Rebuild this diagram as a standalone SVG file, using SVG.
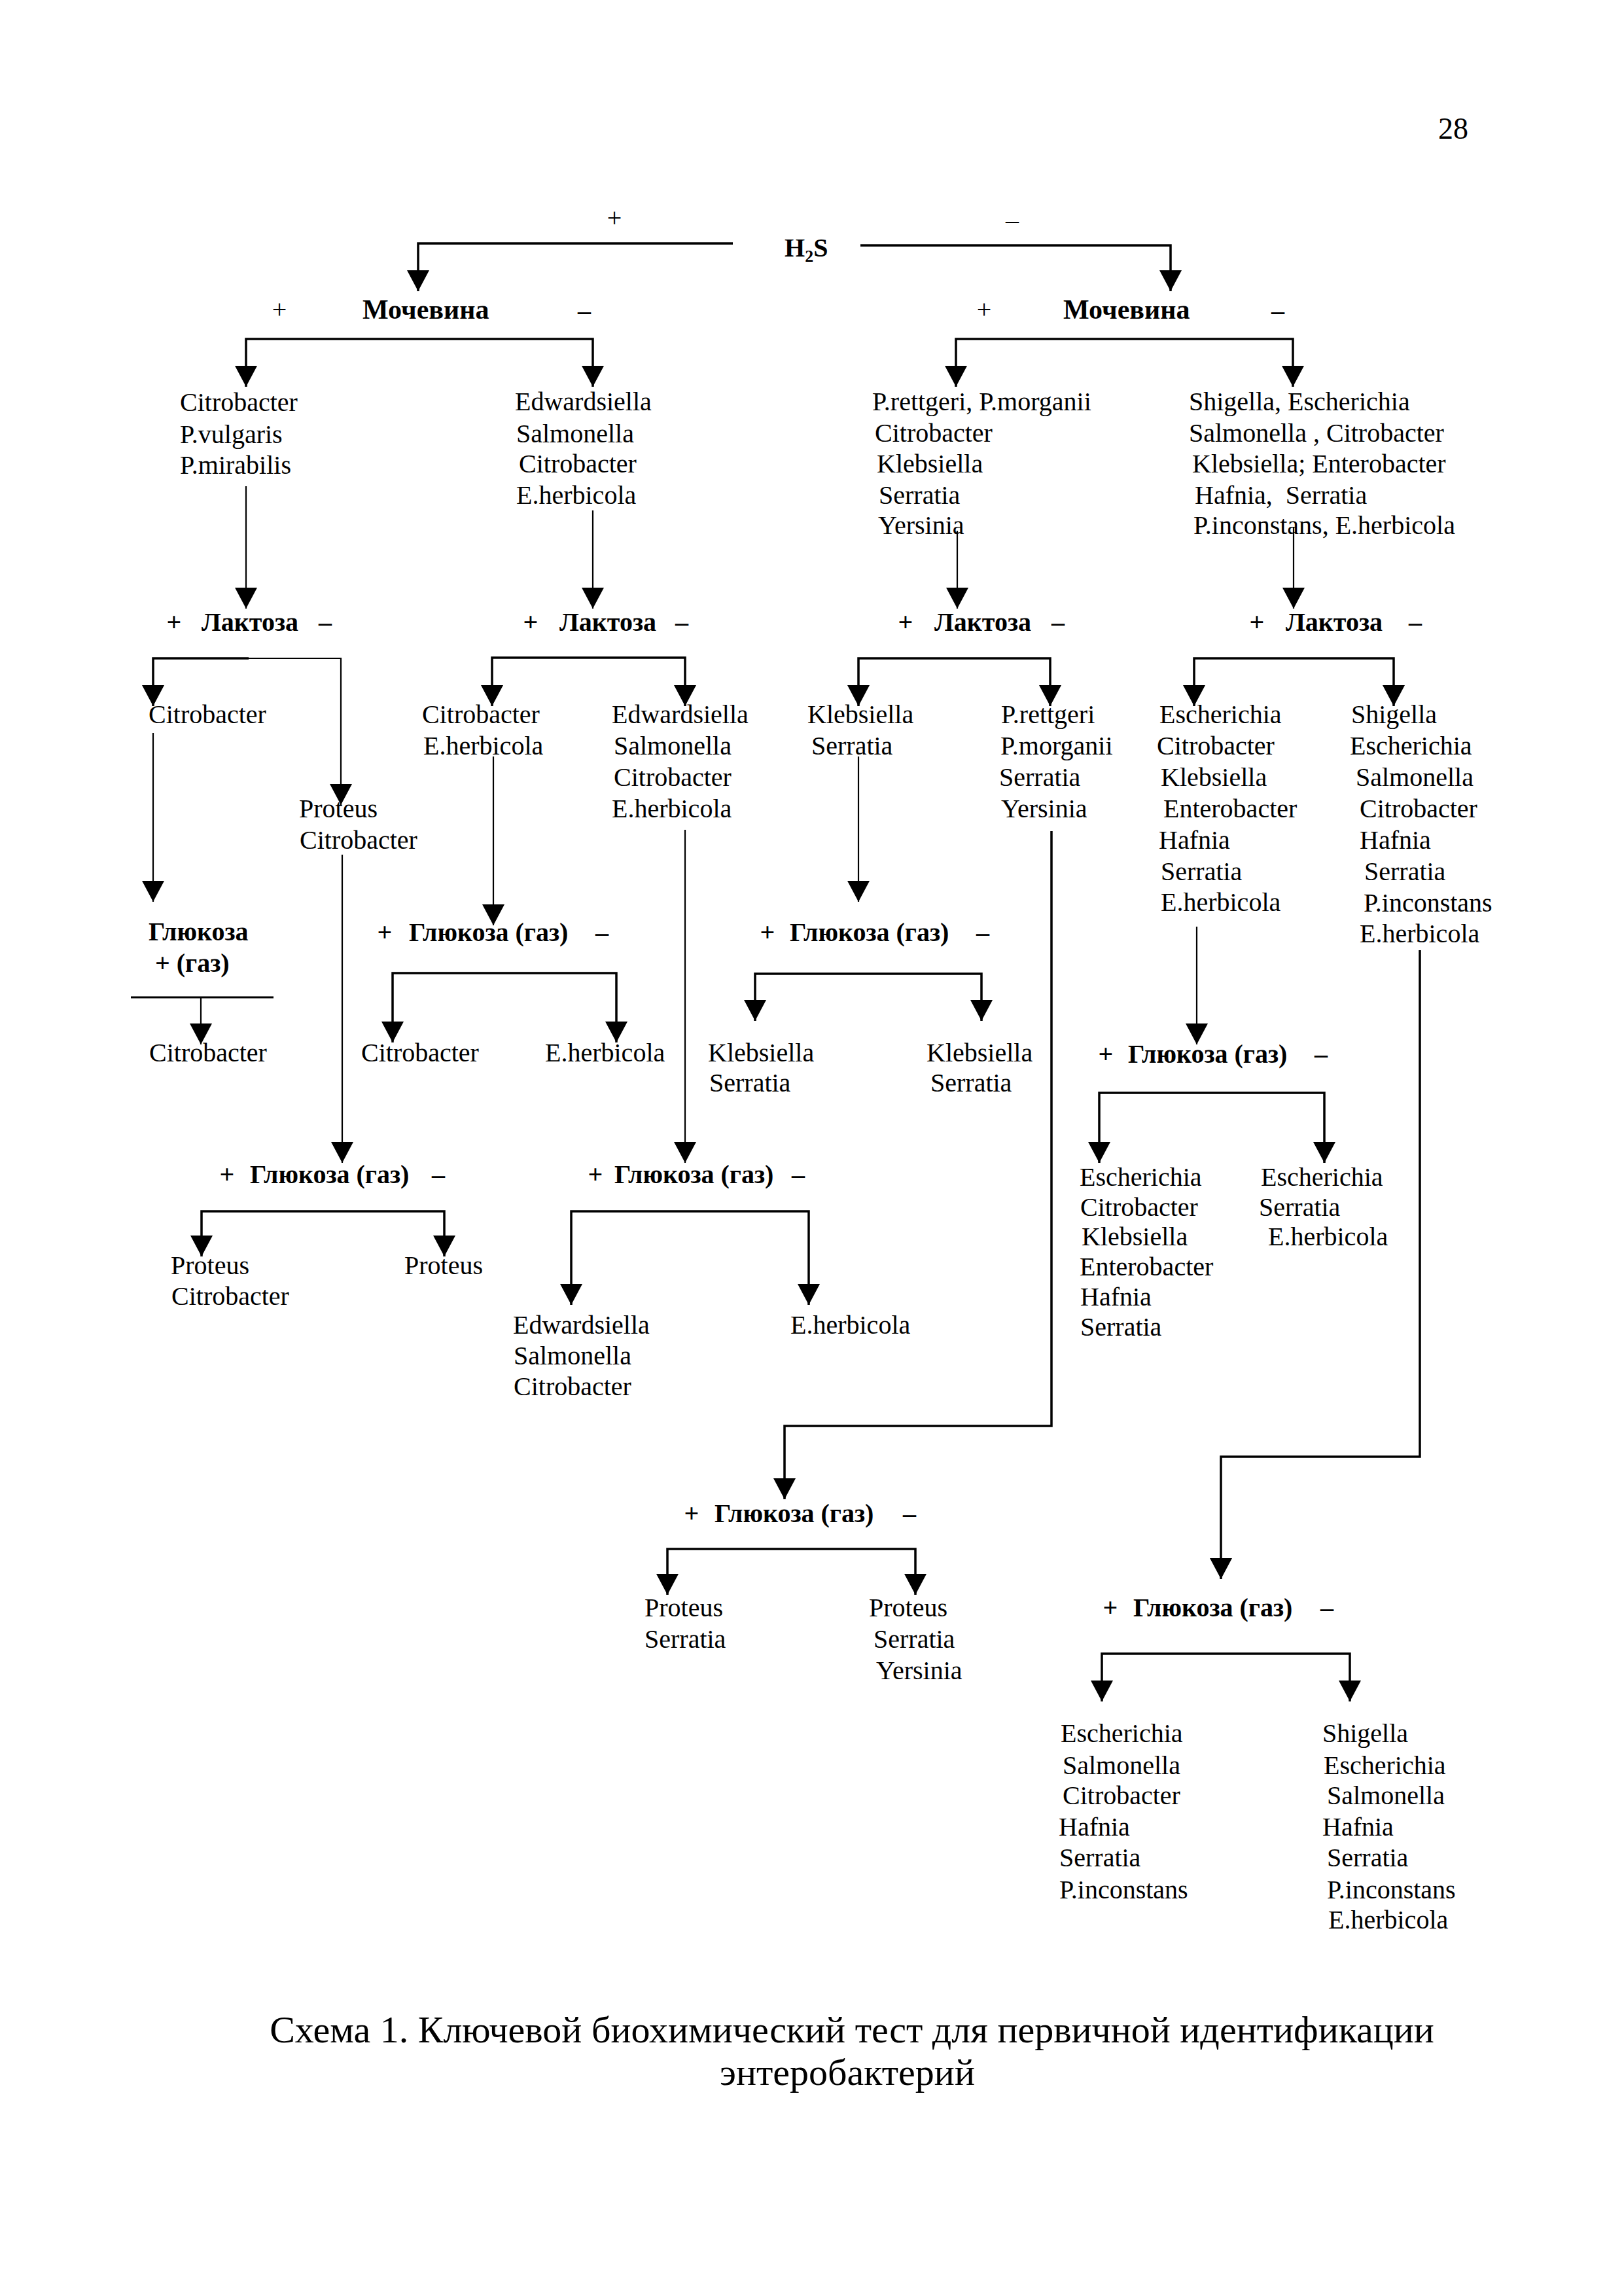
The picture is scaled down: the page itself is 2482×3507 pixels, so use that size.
<svg xmlns="http://www.w3.org/2000/svg" width="2482" height="3507" viewBox="0 0 2482 3507">
<style>
.t{font-family:"Liberation Serif","Times New Roman",serif;font-size:40px;fill:#000;white-space:pre}
.b{font-weight:bold}
.m{text-anchor:middle}
.u{font-size:42px}
.br{fill:none;stroke:#000;stroke-width:3.5;marker-end:url(#ah)}
.ln{fill:none;stroke:#000;stroke-width:2.2;marker-end:url(#ah)}
.pl{fill:none;stroke:#000;stroke-width:3}
.cap{font-family:"Liberation Serif","Times New Roman",serif;font-size:58px;fill:#000;text-anchor:middle}
</style>
<defs>
<marker id="ah" markerUnits="userSpaceOnUse" viewBox="0 0 32 34" markerWidth="32" markerHeight="34" refX="32" refY="17" orient="auto">
<path d="M0,0 L32,17 L0,34 z" fill="#000"/>
</marker>
</defs>
<rect width="2482" height="3507" fill="#fff"/>

<g id="connectors">
<path class="br" d="M1120,372 H639 V445"/>
<path class="br" d="M1315,375 H1789 V445"/>
<path class="br" d="M641,518 H376 V591"/>
<path class="br" d="M641,518 H906 V591"/>
<path class="br" d="M1718,518 H1461 V591"/>
<path class="br" d="M1718,518 H1976 V591"/>
<path class="ln" d="M376,743 V930"/>
<path class="ln" d="M906,780 V930"/>
<path class="ln" d="M1463,811 V930"/>
<path class="ln" d="M1977,806 V930"/>
<path class="br" d="M380,1006 H234 V1079"/>
<path class="ln" d="M380,1006 H521 V1230"/>
<path class="br" d="M900,1005 H752 V1079"/>
<path class="br" d="M900,1005 H1047 V1079"/>
<path class="br" d="M1460,1006 H1312 V1079"/>
<path class="br" d="M1460,1006 H1605 V1079"/>
<path class="br" d="M1978,1006 H1825 V1079"/>
<path class="br" d="M1978,1006 H2130 V1079"/>
<path class="ln" d="M234,1120 V1378"/>
<path class="ln" d="M523,1306 V1777"/>
<path class="ln" d="M754,1156 V1414"/>
<path class="ln" d="M1047,1268 V1777"/>
<path class="ln" d="M1312,1156 V1378"/>
<path class="br" d="M1607,1270 V2179 H1199 V2291"/>
<path class="ln" d="M1829,1416 V1596"/>
<path class="br" d="M2170,1452 V2226 H1866 V2413"/>
<path class="pl" d="M200,1524 H418"/>
<path class="ln" d="M307,1524 V1596"/>
<path class="br" d="M771,1487 H600 V1593"/>
<path class="br" d="M771,1487 H942 V1593"/>
<path class="br" d="M1327,1488 H1154 V1560"/>
<path class="br" d="M1327,1488 H1500 V1560"/>
<path class="br" d="M1852,1670 H1680 V1777"/>
<path class="br" d="M1852,1670 H2024 V1777"/>
<path class="br" d="M493,1851 H308 V1920"/>
<path class="br" d="M493,1851 H679 V1920"/>
<path class="br" d="M1054,1851 H873 V1994"/>
<path class="br" d="M1054,1851 H1236 V1994"/>
<path class="br" d="M1210,2367 H1020 V2437"/>
<path class="br" d="M1210,2367 H1399 V2437"/>
<path class="br" d="M1873,2527 H1684 V2600"/>
<path class="br" d="M1873,2527 H2063 V2600"/>
</g>

<g id="page-number"><text class="t" x="2198" y="212" style="font-size:46px">28</text></g>

<g id="h2s">
<text class="t m" x="939" y="346">+</text>
<text class="t m" x="1547" y="349">–</text>
<text class="t b" x="1199" y="392">H<tspan font-size="26" dy="8">2</tspan><tspan dy="-8">S</tspan></text>
</g>

<g id="urea-left">
<text class="t m" x="427" y="486">+</text>
<text class="t b u" x="554" y="487">Мочевина</text>
<text class="t m b" x="893" y="488">–</text>
</g>
<g id="urea-right">
<text class="t m" x="1504" y="486">+</text>
<text class="t b u" x="1625" y="487">Мочевина</text>
<text class="t m b" x="1953" y="488">–</text>
</g>

<g id="n1"><text class="t"><tspan x="275" y="628">Citrobacter</tspan><tspan x="275" y="677">P.vulgaris</tspan><tspan x="275" y="724">P.mirabilis</tspan></text></g>
<g id="n2"><text class="t"><tspan x="787" y="627">Edwardsiella</tspan><tspan x="789" y="676">Salmonella</tspan><tspan x="793" y="722">Citrobacter</tspan><tspan x="789" y="770">E.herbicola</tspan></text></g>
<g id="n3"><text class="t"><tspan x="1333" y="627">P.rettgeri, P.morganii</tspan><tspan x="1337" y="675">Citrobacter</tspan><tspan x="1340" y="722">Klebsiella</tspan><tspan x="1343" y="770">Serratia</tspan><tspan x="1342" y="816">Yersinia</tspan></text></g>
<g id="n4"><text class="t"><tspan x="1817" y="627">Shigella, Escherichia</tspan><tspan x="1817" y="675">Salmonella , Citrobacter</tspan><tspan x="1822" y="722">Klebsiella; Enterobacter</tspan><tspan x="1826" y="770">Hafnia,  Serratia</tspan><tspan x="1824" y="816">P.inconstans, E.herbicola</tspan></text></g>

<g id="lac1"><text class="t b"><tspan class="m" x="266" y="964">+</tspan><tspan x="308" y="964">Лактоза</tspan><tspan class="m" x="497" y="964">–</tspan></text></g>
<g id="lac2"><text class="t b"><tspan class="m" x="811" y="964">+</tspan><tspan x="855" y="964">Лактоза</tspan><tspan class="m" x="1042" y="964">–</tspan></text></g>
<g id="lac3"><text class="t b"><tspan class="m" x="1384" y="964">+</tspan><tspan x="1428" y="964">Лактоза</tspan><tspan class="m" x="1617" y="964">–</tspan></text></g>
<g id="lac4"><text class="t b"><tspan class="m" x="1921" y="964">+</tspan><tspan x="1965" y="964">Лактоза</tspan><tspan class="m" x="2163" y="964">–</tspan></text></g>

<g id="n5"><text class="t" x="227" y="1105">Citrobacter</text></g>
<g id="n6"><text class="t"><tspan x="457" y="1249">Proteus</tspan><tspan x="458" y="1297">Citrobacter</tspan></text></g>
<g id="n7"><text class="t"><tspan x="645" y="1105">Citrobacter</tspan><tspan x="647" y="1153">E.herbicola</tspan></text></g>
<g id="n8"><text class="t"><tspan x="935" y="1105">Edwardsiella</tspan><tspan x="938" y="1153">Salmonella</tspan><tspan x="938" y="1201">Citrobacter</tspan><tspan x="935" y="1249">E.herbicola</tspan></text></g>
<g id="n9"><text class="t"><tspan x="1234" y="1105">Klebsiella</tspan><tspan x="1240" y="1153">Serratia</tspan></text></g>
<g id="n10"><text class="t"><tspan x="1530" y="1105">P.rettgeri</tspan><tspan x="1529" y="1153">P.morganii</tspan><tspan x="1527" y="1201">Serratia</tspan><tspan x="1530" y="1249">Yersinia</tspan></text></g>
<g id="n11"><text class="t"><tspan x="1772" y="1105">Escherichia</tspan><tspan x="1768" y="1153">Citrobacter</tspan><tspan x="1774" y="1201">Klebsiella</tspan><tspan x="1778" y="1249">Enterobacter</tspan><tspan x="1771" y="1297">Hafnia</tspan><tspan x="1774" y="1345">Serratia</tspan><tspan x="1774" y="1392">E.herbicola</tspan></text></g>
<g id="n12"><text class="t"><tspan x="2065" y="1105">Shigella</tspan><tspan x="2063" y="1153">Escherichia</tspan><tspan x="2072" y="1201">Salmonella</tspan><tspan x="2078" y="1249">Citrobacter</tspan><tspan x="2078" y="1297">Hafnia</tspan><tspan x="2085" y="1345">Serratia</tspan><tspan x="2084" y="1393">P.inconstans</tspan><tspan x="2078" y="1440">E.herbicola</tspan></text></g>

<g id="g1"><text class="t b"><tspan x="227" y="1437">Глюкоза</tspan><tspan x="237" y="1485">+ (газ)</tspan></text></g>
<g id="g2"><text class="t b"><tspan class="m" x="588" y="1438">+</tspan><tspan x="625" y="1438">Глюкоза (газ)</tspan><tspan class="m" x="920" y="1438">–</tspan></text></g>
<g id="g3"><text class="t b"><tspan class="m" x="1173" y="1438">+</tspan><tspan x="1207" y="1438">Глюкоза (газ)</tspan><tspan class="m" x="1502" y="1438">–</tspan></text></g>
<g id="g4"><text class="t b"><tspan class="m" x="1690" y="1624">+</tspan><tspan x="1724" y="1624">Глюкоза (газ)</tspan><tspan class="m" x="2019" y="1624">–</tspan></text></g>
<g id="g5"><text class="t b"><tspan class="m" x="347" y="1808">+</tspan><tspan x="382" y="1808">Глюкоза (газ)</tspan><tspan class="m" x="670" y="1808">–</tspan></text></g>
<g id="g6"><text class="t b"><tspan class="m" x="910" y="1808">+</tspan><tspan x="939" y="1808">Глюкоза (газ)</tspan><tspan class="m" x="1220" y="1808">–</tspan></text></g>
<g id="g7"><text class="t b"><tspan class="m" x="1057" y="2326">+</tspan><tspan x="1092" y="2326">Глюкоза (газ)</tspan><tspan class="m" x="1390" y="2326">–</tspan></text></g>
<g id="g8"><text class="t b"><tspan class="m" x="1697" y="2470">+</tspan><tspan x="1732" y="2470">Глюкоза (газ)</tspan><tspan class="m" x="2028" y="2470">–</tspan></text></g>

<g id="r1"><text class="t" x="228" y="1622">Citrobacter</text></g>
<g id="r2"><text class="t" x="552" y="1622">Citrobacter</text></g>
<g id="r3"><text class="t" x="833" y="1622">E.herbicola</text></g>
<g id="r4"><text class="t"><tspan x="1082" y="1622">Klebsiella</tspan><tspan x="1084" y="1668">Serratia</tspan></text></g>
<g id="r5"><text class="t"><tspan x="1416" y="1622">Klebsiella</tspan><tspan x="1422" y="1668">Serratia</tspan></text></g>
<g id="r6"><text class="t"><tspan x="1650" y="1812">Escherichia</tspan><tspan x="1651" y="1858">Citrobacter</tspan><tspan x="1653" y="1903">Klebsiella</tspan><tspan x="1650" y="1949">Enterobacter</tspan><tspan x="1651" y="1995">Hafnia</tspan><tspan x="1651" y="2041">Serratia</tspan></text></g>
<g id="r7"><text class="t"><tspan x="1927" y="1812">Escherichia</tspan><tspan x="1924" y="1858">Serratia</tspan><tspan x="1938" y="1903">E.herbicola</tspan></text></g>
<g id="r8"><text class="t"><tspan x="261" y="1947">Proteus</tspan><tspan x="262" y="1994">Citrobacter</tspan></text></g>
<g id="r9"><text class="t" x="618" y="1947">Proteus</text></g>
<g id="r10"><text class="t"><tspan x="784" y="2038">Edwardsiella</tspan><tspan x="785" y="2085">Salmonella</tspan><tspan x="785" y="2132">Citrobacter</tspan></text></g>
<g id="r11"><text class="t" x="1208" y="2038">E.herbicola</text></g>
<g id="r12"><text class="t"><tspan x="985" y="2470">Proteus</tspan><tspan x="985" y="2518">Serratia</tspan></text></g>
<g id="r13"><text class="t"><tspan x="1328" y="2470">Proteus</tspan><tspan x="1335" y="2518">Serratia</tspan><tspan x="1339" y="2566">Yersinia</tspan></text></g>
<g id="r14"><text class="t"><tspan x="1621" y="2662">Escherichia</tspan><tspan x="1624" y="2711">Salmonella</tspan><tspan x="1624" y="2757">Citrobacter</tspan><tspan x="1618" y="2805">Hafnia</tspan><tspan x="1619" y="2852">Serratia</tspan><tspan x="1619" y="2901">P.inconstans</tspan></text></g>
<g id="r15"><text class="t"><tspan x="2021" y="2662">Shigella</tspan><tspan x="2023" y="2711">Escherichia</tspan><tspan x="2028" y="2757">Salmonella</tspan><tspan x="2021" y="2805">Hafnia</tspan><tspan x="2028" y="2852">Serratia</tspan><tspan x="2028" y="2901">P.inconstans</tspan><tspan x="2030" y="2947">E.herbicola</tspan></text></g>

<g id="caption">
<text class="cap" x="1302" y="3121">Схема 1. Ключевой биохимический тест для первичной идентификации</text>
<text class="cap" x="1295" y="3186">энтеробактерий</text>
</g>
</svg>
